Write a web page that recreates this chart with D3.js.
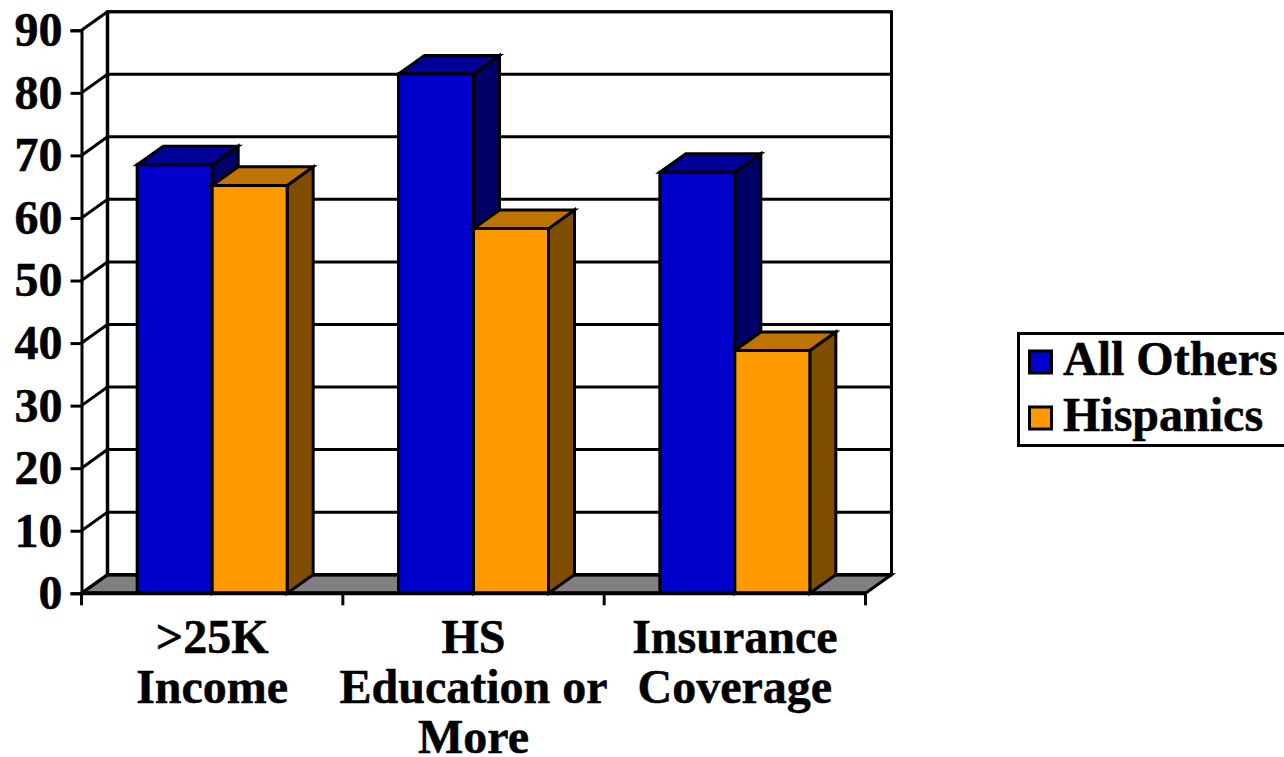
<!DOCTYPE html>
<html>
<head>
<meta charset="utf-8">
<script src="https://cdn.jsdelivr.net/npm/d3@7"></script>
<style>
	html, body { margin: 0; padding: 0; background: #fff; overflow: hidden; }
	text { font-family: "Liberation Serif", serif; font-weight: bold; font-size: 48px; fill: #000; stroke: #000; stroke-width: 0.5px; }
</style>
</head>
<body>
<div id="chart"></div>
<script>
var categories = [[">25K", "Income"], ["HS", "Education or", "More"], ["Insurance", "Coverage"]];
var seriesNames = ["All Others", "Hispanics"];
var allOthers = [68.5, 83, 67.3];
var hispanics = [65.2, 58.3, 38.8];
var yTicks = [0, 10, 20, 30, 40, 50, 60, 70, 80, 90];

var w = 1284, h = 757;
var depthX = 26, depthY = -18.6;
var colors = [
	{ front: "#0000cc", top: "#000099", side: "#000066" },
	{ front: "#ff9900", top: "#bf7300", side: "#7f4d00" }
];

var svg = d3.select("#chart").append("svg").attr("width", w).attr("height", h);

// Scale
var yScale = d3.scaleLinear().domain([0, 90]).range([593.3, 30.3]);
var xScale = d3.scaleBand()
	.domain(d3.range(categories.length))
	.range([81.5, 865.5])
	.paddingInner(0)
	.paddingOuter(0);
var groupWidth = 150;
var xInner = d3.scaleBand()
	.domain(d3.range(seriesNames.length))
	.range([(xScale.bandwidth() - groupWidth) / 2, (xScale.bandwidth() + groupWidth) / 2]);

function poly(g, pts, fill, sw) {
	g.append("polygon")
		.attr("points", pts.map(function (p) { return p.join(","); }).join(" "))
		.attr("fill", fill)
		.attr("stroke", "#000")
		.attr("stroke-width", sw)
		.attr("stroke-linejoin", "miter");
}

var y0 = yScale(0), yTop = yScale(90), xL = xScale.range()[0], xR = xScale.range()[1];

// Walls and floor
var wall = svg.append("g");
poly(wall, [[xL + depthX, yTop + depthY], [xR + depthX, yTop + depthY], [xR + depthX, y0 + depthY], [xL + depthX, y0 + depthY]], "#fff", 3);
poly(wall, [[xL, y0], [xL + depthX, y0 + depthY], [xR + depthX, y0 + depthY], [xR, y0]], "#808080", 3);

// Gridlines on the back wall and the left side wall
yTicks.forEach(function (t) {
	wall.append("line")
		.attr("x1", xL + depthX).attr("x2", xR + depthX)
		.attr("y1", yScale(t) + depthY).attr("y2", yScale(t) + depthY)
		.attr("stroke", "#000").attr("stroke-width", t === 0 ? 3.5 : 3);
	wall.append("line")
		.attr("x1", xL).attr("x2", xL + depthX)
		.attr("y1", yScale(t)).attr("y2", yScale(t) + depthY)
		.attr("stroke", "#000").attr("stroke-width", 3);
});
wall.append("line")
	.attr("x1", xL + depthX).attr("x2", xL + depthX)
	.attr("y1", yTop + depthY).attr("y2", y0 + depthY)
	.attr("stroke", "#000").attr("stroke-width", 3.5);

// Bars
categories.forEach(function (c, i) {
	var g = svg.append("g").attr("transform", "translate(" + xScale(i) + ",0)");
	[allOthers[i], hispanics[i]].forEach(function (v, s) {
		var x0 = xInner(s), x1 = x0 + xInner.bandwidth(), y = yScale(v);
		poly(g, [[x1, y0], [x1 + depthX, y0 + depthY], [x1 + depthX, y + depthY], [x1, y]], colors[s].side, 3);
		poly(g, [[x0, y], [x0 + depthX, y + depthY], [x1 + depthX, y + depthY], [x1, y]], colors[s].top, 3);
		poly(g, [[x0, y], [x1, y], [x1, y0], [x0, y0]], colors[s].front, 3);
	});
});

// Axis
var yAxis = d3.axisLeft(yScale).tickValues(yTicks).tickSize(11).tickPadding(8);
var yG = svg.append("g").attr("transform", "translate(" + xL + ",0)").call(yAxis);
yG.select(".domain").attr("stroke", "#000").attr("stroke-width", 3);
yG.selectAll(".tick line").attr("stroke", "#000").attr("stroke-width", 3);

svg.append("line")
	.attr("x1", xL).attr("x2", xR).attr("y1", y0).attr("y2", y0)
	.attr("stroke", "#000").attr("stroke-width", 4);

d3.range(categories.length + 1).forEach(function (i) {
	var x = xL + i * xScale.step();
	svg.append("line")
		.attr("x1", x).attr("x2", x).attr("y1", y0).attr("y2", y0 + 12)
		.attr("stroke", "#000").attr("stroke-width", 3);
});

categories.forEach(function (lines, i) {
	var t = svg.append("text").attr("text-anchor", "middle");
	lines.forEach(function (line, j) {
		t.append("tspan")
			.attr("x", xScale(i) + xScale.bandwidth() / 2)
			.attr("y", 653 + j * 50)
			.text(line);
	});
});

// Legend
var legend = svg.append("g");
legend.append("rect")
	.attr("x", 1018.5).attr("y", 333.5).attr("width", 300).attr("height", 112)
	.attr("fill", "#fff").attr("stroke", "#000").attr("stroke-width", 3);
seriesNames.forEach(function (name, s) {
	var yy = 351 + s * 56;
	legend.append("rect")
		.attr("x", 1029.5).attr("y", yy).attr("width", 22).attr("height", 22)
		.attr("fill", colors[s].front).attr("stroke", "#000").attr("stroke-width", 3);
	legend.append("text").attr("x", 1063).attr("y", yy + 24).text(name);
});
</script>
</body>
</html>
